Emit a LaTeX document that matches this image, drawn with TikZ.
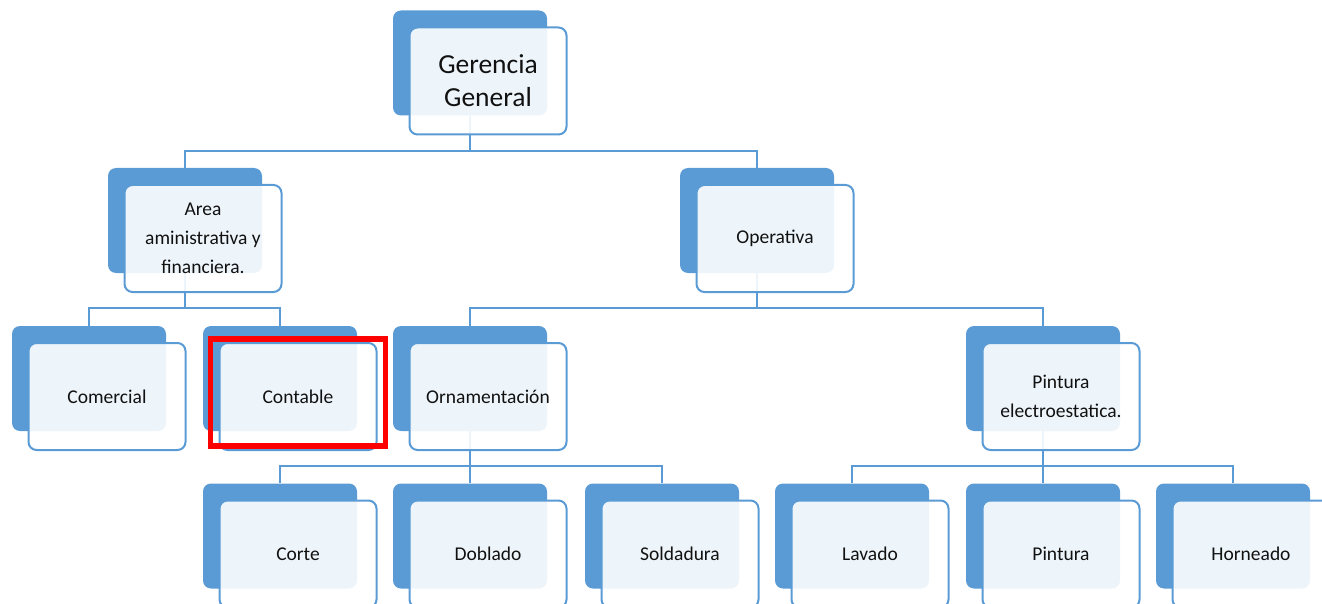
\documentclass[tikz,border=0pt]{standalone}
\usepackage{fontspec}
\setmainfont{Carlito}
\usetikzlibrary{backgrounds}
\definecolor{azul}{HTML}{5B9BD5}
\definecolor{texto}{HTML}{111111}
% caja doble: estilo extra, nombre, centro de la caja de atras, texto
\def\caja[#1](#2)(#3,#4)#5{%
	\node[backbox] (#2) at (#3,#4) {};
	\node[frontbox,#1] (#2-f) at (#3+18,#4+18) {#5};}

\begin{document}
\begin{tikzpicture}[x=1pt, y=-1pt,
		backbox/.style={fill=azul, rounded corners=8pt, minimum width=154pt, minimum height=105pt, inner sep=0pt},
		frontbox/.style={draw=azul, line width=2pt, fill=white, fill opacity=0.9, text opacity=1, text=texto,
			rounded corners=8pt, minimum width=157pt, minimum height=107pt, inner sep=0pt, align=center,
			font=\fontsize{19.5}{29}\selectfont},
		grande/.style={font=\fontsize{27.5}{33}\selectfont},
		link/.style={draw=azul, line width=2pt}]
	\useasboundingbox (0,0) rectangle (1322,604);
	
	%%%%% cajas %%%%%
	\caja[grande](gg)(470,63){Gerencia\\General}
	
	\caja[](area)(185,220.5){Area\\aministrativa y\\financiera.}
	\caja[](oper)(757,220.5){Operativa}
	
	\caja[](com)(89,378.5){Comercial}
	\caja[](cont)(280,378.5){Contable}
	\caja[](orna)(470,378.5){Ornamentación}
	\caja[](pint)(1043,378.5){Pintura\\electroestatica.}
	
	\caja[](corte)(280,536){Corte}
	\caja[](dobl)(470,536){Doblado}
	\caja[](sold)(662,536){Soldadura}
	\caja[](lav)(852,536){Lavado}
	\caja[](pin2)(1043,536){Pintura}
	\caja[](horn)(1233,536){Horneado}
	
	%%%%% conectores %%%%%
	\begin{scope}[on background layer]
		\coordinate (b1) at (470,151);
		\draw[link] (gg.south) -- (b1);
		\draw[link] (area.north) |- (b1) -| (oper.north);
		
		\coordinate (b2) at (185,308);
		\draw[link] (area.south) -- (b2);
		\draw[link] (com.north) |- (b2) -| (cont.north);
		
		\coordinate (b3) at (757,308);
		\draw[link] (oper.south) -- (b3);
		\draw[link] (orna.north) |- (b3) -| (pint.north);
		
		\coordinate (b4) at (470,466);
		\draw[link] (orna.south) -- (b4);
		\draw[link] (corte.north) |- (b4) -| (sold.north);
		\draw[link] (dobl.north) -- (b4);
		
		\coordinate (b5) at (1043,466);
		\draw[link] (pint.south) -- (b5);
		\draw[link] (lav.north) |- (b5) -| (horn.north);
		\draw[link] (pin2.north) -- (b5);
	\end{scope}
	
	%%%%% marca %%%%%
	\draw[red, line width=5.5pt] (210.5,339) rectangle (385.5,446);
\end{tikzpicture}
\end{document}
